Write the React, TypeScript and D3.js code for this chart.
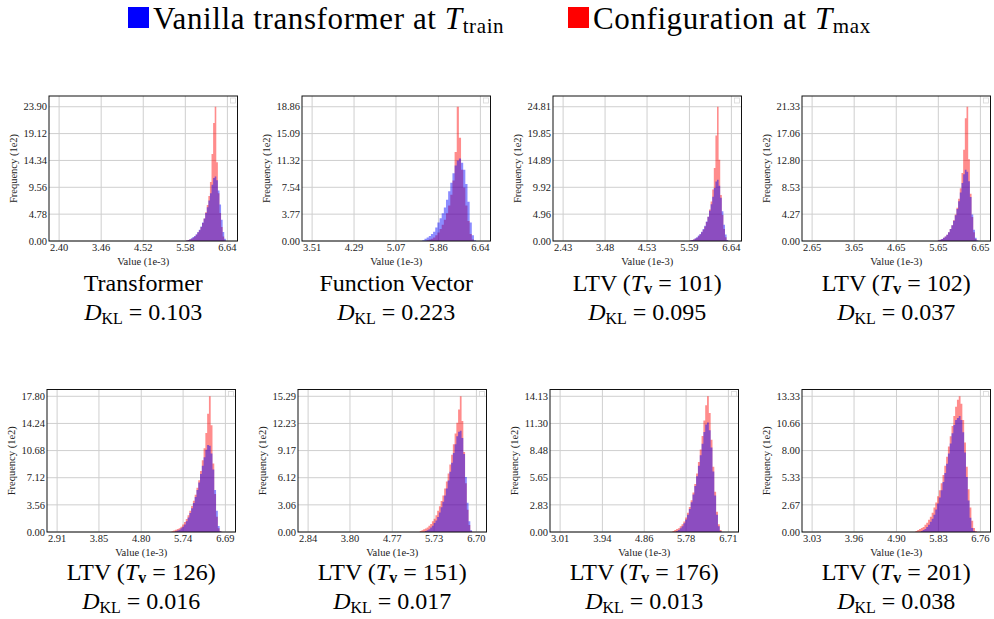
import React from "react";
import * as d3 from "d3";

// panel order: top row left→right, then bottom row
const panelNames = ["Transformer", "Function Vector", "LTV", "LTV", "LTV", "LTV", "LTV", "LTV"];
const tvValues = [null, null, 101, 102, 126, 151, 176, 201];
const dklValues = ["0.103", "0.223", "0.095", "0.037", "0.016", "0.017", "0.013", "0.038"];

const xTickLabels = [
  [2.40, 3.46, 4.52, 5.58, 6.64],
  [3.51, 4.29, 5.07, 5.86, 6.64],
  [2.43, 3.48, 4.53, 5.59, 6.64],
  [2.65, 3.65, 4.65, 5.65, 6.65],
  [2.91, 3.85, 4.80, 5.74, 6.69],
  [2.84, 3.80, 4.77, 5.73, 6.70],
  [3.01, 3.94, 4.86, 5.78, 6.71],
  [3.03, 3.96, 4.90, 5.83, 6.76],
];
const yMaxes = [23.90, 18.86, 24.81, 21.33, 17.80, 15.29, 14.13, 13.33];

// histogram bins (value 1e-3), frequency in 1e2
const binWidth = 0.04;
const binStarts = [5.56, 5.56, 5.56, 5.56, 5.48, 5.40, 5.48, 5.32];

const vanillaCounts = [
  [0, 0.1, 0.2, 0.3, 0.5, 0.7, 0.9, 1.2, 1.6, 2.0, 2.6, 3.3, 4.0, 5.0, 6.0, 7.2, 8.5, 10.0, 11.2, 11.5, 10.8, 9.0, 6.5, 3.8, 1.6, 0.4, 0],
  [0.1, 0.3, 0.5, 0.7, 1.0, 1.3, 1.9, 2.6, 3.2, 3.9, 4.7, 5.8, 7.0, 8.2, 9.5, 10.6, 11.3, 11.6, 11.0, 10.0, 8.0, 5.5, 2.6, 0.8, 0.1, 0, 0],
  [0, 0.1, 0.2, 0.3, 0.5, 0.7, 1.0, 1.3, 1.7, 2.2, 2.8, 3.6, 4.5, 5.6, 6.8, 8.2, 9.8, 11.0, 11.3, 10.2, 8.0, 5.5, 3.0, 1.2, 0.2, 0, 0],
  [0, 0, 0.1, 0.2, 0.3, 0.5, 0.7, 1.0, 1.4, 1.9, 2.5, 3.2, 4.1, 5.1, 6.3, 7.7, 9.2, 10.6, 11.3, 11.0, 9.5, 7.0, 4.2, 1.8, 0.5, 0.1, 0],
  [0, 0, 0.1, 0.2, 0.3, 0.5, 0.7, 1.0, 1.4, 1.9, 2.5, 3.1, 3.8, 4.6, 5.5, 6.5, 7.6, 8.7, 9.8, 10.8, 11.4, 11.3, 10.3, 8.2, 5.5, 2.8, 0.8, 0.1, 0, 0],
  [0, 0, 0, 0.1, 0.2, 0.3, 0.5, 0.7, 1.0, 1.3, 1.7, 2.2, 2.8, 3.4, 4.1, 4.9, 5.8, 6.8, 7.8, 8.9, 9.9, 10.8, 11.3, 11.4, 10.6, 8.8, 6.2, 3.3, 1.2, 0.2, 0, 0],
  [0, 0, 0.1, 0.2, 0.4, 0.6, 0.9, 1.3, 1.8, 2.4, 3.1, 3.9, 4.8, 5.8, 6.9, 8.0, 9.2, 10.4, 11.2, 11.4, 10.6, 8.8, 6.3, 3.8, 1.8, 0.6, 0.1, 0, 0],
  [0, 0, 0, 0.1, 0.2, 0.3, 0.5, 0.7, 1.0, 1.3, 1.7, 2.2, 2.8, 3.4, 4.1, 4.9, 5.8, 6.7, 7.7, 8.7, 9.7, 10.5, 11.0, 11.2, 11.4, 11.0, 9.8, 7.8, 5.4, 3.1, 1.4, 0.4, 0.1, 0, 0],
];

const configCounts = [
  [0, 0.1, 0.2, 0.3, 0.4, 0.6, 0.8, 1.1, 1.5, 1.9, 2.5, 3.2, 4.0, 5.1, 6.4, 8.0, 10.5, 15.5, 21.0, 23.9, 14.0, 8.5, 5.0, 2.5, 0.8, 0.1, 0],
  [0, 0, 0.1, 0.2, 0.3, 0.5, 0.8, 1.2, 1.7, 2.3, 3.0, 3.9, 5.0, 6.5, 8.5, 12.5, 18.86, 14.5, 10.0, 7.5, 5.0, 2.8, 1.0, 0.2, 0, 0, 0],
  [0, 0.1, 0.2, 0.3, 0.4, 0.6, 0.9, 1.2, 1.6, 2.1, 2.7, 3.5, 4.5, 5.8, 7.3, 9.5, 13.5, 19.5, 24.81, 15.0, 8.5, 4.8, 2.2, 0.7, 0.1, 0, 0],
  [0, 0, 0.1, 0.2, 0.3, 0.5, 0.7, 1.0, 1.4, 1.9, 2.5, 3.3, 4.2, 5.3, 6.7, 8.4, 10.8, 14.5, 19.5, 21.33, 13.0, 7.5, 3.8, 1.4, 0.3, 0, 0],
  [0.1, 0.2, 0.3, 0.4, 0.5, 0.7, 1.0, 1.3, 1.7, 2.2, 2.8, 3.4, 4.1, 4.9, 5.8, 6.8, 8.0, 9.4, 11.0, 13.0, 15.5, 17.8, 14.0, 9.0, 5.0, 2.0, 0.5, 0.1, 0, 0],
  [0.1, 0.2, 0.3, 0.4, 0.5, 0.7, 0.9, 1.2, 1.5, 1.9, 2.4, 2.9, 3.5, 4.1, 4.9, 5.7, 6.6, 7.6, 8.7, 9.9, 11.1, 12.3, 13.8, 15.29, 12.5, 9.0, 5.5, 2.5, 0.8, 0.1, 0, 0],
  [0.1, 0.2, 0.3, 0.4, 0.6, 0.8, 1.1, 1.5, 2.0, 2.6, 3.3, 4.1, 5.0, 6.1, 7.3, 8.6, 10.0, 11.6, 13.2, 14.13, 12.4, 9.6, 6.8, 4.2, 2.1, 0.8, 0.2, 0, 0],
  [0.1, 0.2, 0.3, 0.4, 0.5, 0.7, 0.9, 1.2, 1.5, 1.9, 2.4, 2.9, 3.5, 4.1, 4.8, 5.6, 6.5, 7.4, 8.4, 9.4, 10.4, 11.4, 12.3, 13.0, 13.33, 12.6, 11.0, 8.8, 6.4, 4.2, 2.4, 1.1, 0.4, 0.1, 0],
];

// layout
const W = 994;
const H = 619;
const rowTop = [96, 389.5];
const rowBottom = [241, 532];
const rowLefts = [
  [49, 302, 553, 802],
  [47, 298, 550, 802],
];
const frameW = 188.5;
const rowPadTop = [1.08, 1.05];
const titleBase = [291, 580];
const dklBase = [320, 609];

const SERIF = "Liberation Serif, Times New Roman, serif";
const BLUE = "rgba(0,0,255,0.45)";
const RED = "rgba(255,0,0,0.45)";

type Pt = [number, number];

const Panel: React.FC<{ idx: number }> = ({ idx }) => {
  const row = idx < 4 ? 0 : 1;
  const col = idx % 4;
  const left = rowLefts[row][col];
  const top = rowTop[row];
  const bottom = rowBottom[row];
  const right = left + frameW;
  const ticks = xTickLabels[idx];
  const xmin = ticks[0];
  const xmax = ticks[ticks.length - 1];
  const pad = (xmax - xmin) * 0.06;
  const x = d3.scaleLinear().domain([xmin - pad, xmax + pad]).range([left, right]);
  const ymax = yMaxes[idx];
  const y = d3.scaleLinear().domain([0, ymax * rowPadTop[row]]).range([bottom, top]);
  const yTicks = d3.range(6).map((i) => (ymax * i) / 5);

  const area = d3
    .area<Pt>()
    .x((d) => x(d[0]))
    .y0(y(0))
    .y1((d) => y(d[1]))
    .curve(d3.curveStepAfter);

  const toPts = (counts: number[]): Pt[] => {
    const s = binStarts[idx];
    const pts: Pt[] = counts.map((v, i) => [s + i * binWidth, v]);
    pts.push([s + counts.length * binWidth, counts[counts.length - 1]]);
    return pts;
  };

  const cx = (left + right) / 2;
  const tv = tvValues[idx];

  return (
    <g>
      {/* grid */}
      {ticks.map((t) => (
        <line key={"gx" + t} x1={x(t)} x2={x(t)} y1={top} y2={bottom} stroke="#cfcfcf" strokeWidth={1} />
      ))}
      {yTicks.map((t, i) => (
        <line key={"gy" + i} x1={left} x2={right} y1={y(t)} y2={y(t)} stroke="#cfcfcf" strokeWidth={1} />
      ))}
      <rect x={right - 7} y={top + 2} width={5} height={5} fill="none" stroke="#d8d8d8" strokeWidth={0.8} />
      {/* histograms */}
      <path d={area(toPts(configCounts[idx])) || ""} fill={RED} />
      <path d={area(toPts(vanillaCounts[idx])) || ""} fill={BLUE} />
      {/* frame */}
      <rect x={left} y={top} width={right - left} height={bottom - top} fill="none" stroke="#111" strokeWidth={1} />
      {/* tick labels */}
      {yTicks.map((t, i) => (
        <text key={"ly" + i} x={left - 2} y={y(t)} dy="0.35em" textAnchor="end" fontSize={10.5} fill="#222">
          {t.toFixed(2)}
        </text>
      ))}
      {ticks.map((t) => (
        <text key={"lx" + t} x={x(t)} y={bottom + 10} textAnchor="middle" fontSize={10.5} fill="#222">
          {t.toFixed(2)}
        </text>
      ))}
      <text x={cx} y={bottom + 23.5} textAnchor="middle" fontSize={10.5} fill="#222">
        Value (1e-3)
      </text>
      <text
        transform={`translate(${left - 32},${(top + bottom) / 2}) rotate(-90)`}
        textAnchor="middle"
        fontSize={10.5}
        fill="#222"
      >
        Frequency (1e2)
      </text>
      {/* titles */}
      <text x={cx} y={titleBase[row]} textAnchor="middle" fontSize={24} fill="#000">
        {tv === null ? (
          panelNames[idx]
        ) : (
          <>
            {panelNames[idx] + " ("}
            <tspan fontStyle="italic">T</tspan>
            <tspan fontSize={16} fontWeight="bold" dy={3}>v</tspan>
            <tspan dy={-3}>{" = " + tv + ")"}</tspan>
          </>
        )}
      </text>
      <text x={cx} y={dklBase[row]} textAnchor="middle" fontSize={24} fill="#000">
        <tspan fontStyle="italic">D</tspan>
        <tspan fontSize={16} dy={3.5}>KL</tspan>
        <tspan dy={-3.5}>{" = " + dklValues[idx]}</tspan>
      </text>
    </g>
  );
};

export default function App() {
  return (
    <svg
      width={W}
      height={H}
      style={{ position: "absolute", left: 0, top: 0, background: "#fff", fontFamily: SERIF }}
      xmlns="http://www.w3.org/2000/svg"
    >
      <rect width={W} height={H} fill="#fff" />
      {/* legend */}
      <rect x={128} y={7} width={21} height={21} fill="#0000ff" />
      <text x={153} y={29} fontSize={31} letterSpacing={0.6} fill="#000">
        Vanilla transformer at <tspan fontStyle="italic">T</tspan>
        <tspan fontSize={21} dy={4}>train</tspan>
      </text>
      <rect x={568} y={7} width={21} height={21} fill="#ff0000" />
      <text x={593} y={29} fontSize={31} letterSpacing={0.6} fill="#000">
        Configuration at <tspan fontStyle="italic">T</tspan>
        <tspan fontSize={21} dy={4}>max</tspan>
      </text>
      {d3.range(8).map((i) => (
        <Panel key={i} idx={i} />
      ))}
    </svg>
  );
}
